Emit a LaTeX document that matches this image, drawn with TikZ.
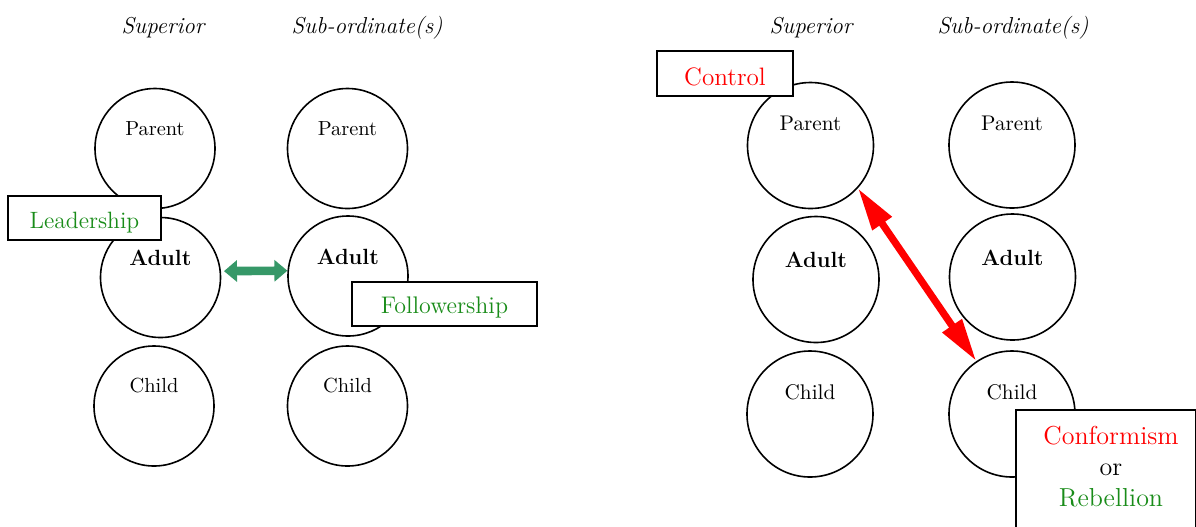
\documentclass[tikz,border=0pt]{standalone}
\usetikzlibrary{arrows.meta}

\definecolor{tagred}{RGB}{255,0,0}
\definecolor{taggreen}{RGB}{25,140,25}
\definecolor{linkgreen}{RGB}{54,152,104}

\tikzset{
  egoL/.style={circle, draw, line width=0.8pt, minimum size=60pt, inner sep=0pt,
    text height=10pt, text depth=23.5pt, font=\fontsize{10.2}{12}\selectfont},
  adultL/.style={egoL, text depth=21.8pt, font=\bfseries\fontsize{11}{12}\selectfont},
  egoR/.style={egoL, minimum size=63pt, text depth=25pt, font=\fontsize{10.6}{12}\selectfont},
  adultR/.style={egoR, text depth=22pt, font=\bfseries\fontsize{11}{12}\selectfont},
  role/.style={anchor=base, font=\itshape\fontsize{11.5}{13}\selectfont},
  tag/.style={rectangle, draw, fill=white, line width=0.75pt, inner sep=0pt},
}

\begin{document}
\begin{tikzpicture}[x=0.5pt, y=-0.5pt]
        \useasboundingbox (0,0) rectangle (1196,526);
        \clip (0,0) rectangle (1196,526);

        % Headings
        \node[role] (supL) at (163,33) {Superior};
        \node[role] (subL) at (367,33) {Sub-ordinate(s)};
        \node[role] (supR) at (811,33) {Superior};
        \node[role] (subR) at (1013,33) {Sub-ordinate(s)};

        % Ego states, left pair
        \node[egoL] (pL) at (155,148.5) {Parent};
        \node[adultL] (aL) at (160.5,277.5) {Adult};
        \node[egoL] (cL) at (154,406) {Child};
        \node[egoL] (pLs) at (347.5,148.5) {Parent};
        \node[adultL] (aLs) at (348,276) {Adult};
        \node[egoL] (cLs) at (347.5,406) {Child};

        % Ego states, right pair
        \node[egoR] (pR) at (810.5,145.5) {Parent};
        \node[adultR] (aR) at (816,279.5) {Adult};
        \node[egoR] (cR) at (810,414) {Child};
        \node[egoR] (pRs) at (1012,145) {Parent};
        \node[adultR] (aRs) at (1012.5,277) {Adult};
        \node[egoR] (cRs) at (1012,414) {Child};

        % Transactions
        \draw[linkgreen, line width=4.3pt, shorten <=1.5pt,
          {Triangle[length=6.5pt, width=10.5pt]}-{Triangle[length=6.5pt, width=10.5pt]}] (aL.6) -- (aLs.175);
        \draw[tagred, line width=3.6pt,
          {Triangle[length=21.5pt, width=11pt]}-{Triangle[length=21.5pt, width=11pt]}] (pR.-42) -- (cRs.124);

        % Tags
        \node[tag, minimum width=76.5pt, text height=16pt, text depth=6pt, text=taggreen,
          font=\fontsize{11.8}{14}\selectfont] (lead) at (84.5,218) {Leadership};
        \node[tag, minimum width=92.5pt, text height=15.5pt, text depth=6.5pt, text=taggreen,
          font=\fontsize{12}{14}\selectfont] (follow) at (444.5,304) {Followership};
        \node[tag, minimum width=68pt, text height=17pt, text depth=5.5pt, text=tagred,
          font=\fontsize{12.6}{15}\selectfont] (ctrl) at (725,73.5) {Control\hspace{8pt}};
        \node[tag, anchor=north west, minimum width=90pt, minimum height=80pt] (outcome) at (1015,409) {};
        \node[align=center, font=\fontsize{13}{15.5}\selectfont] (verdict) at (1111,467)
          {\textcolor{tagred}{Conformism}\\or\\\textcolor{taggreen}{Rebellion}};
\end{tikzpicture}
\end{document}
